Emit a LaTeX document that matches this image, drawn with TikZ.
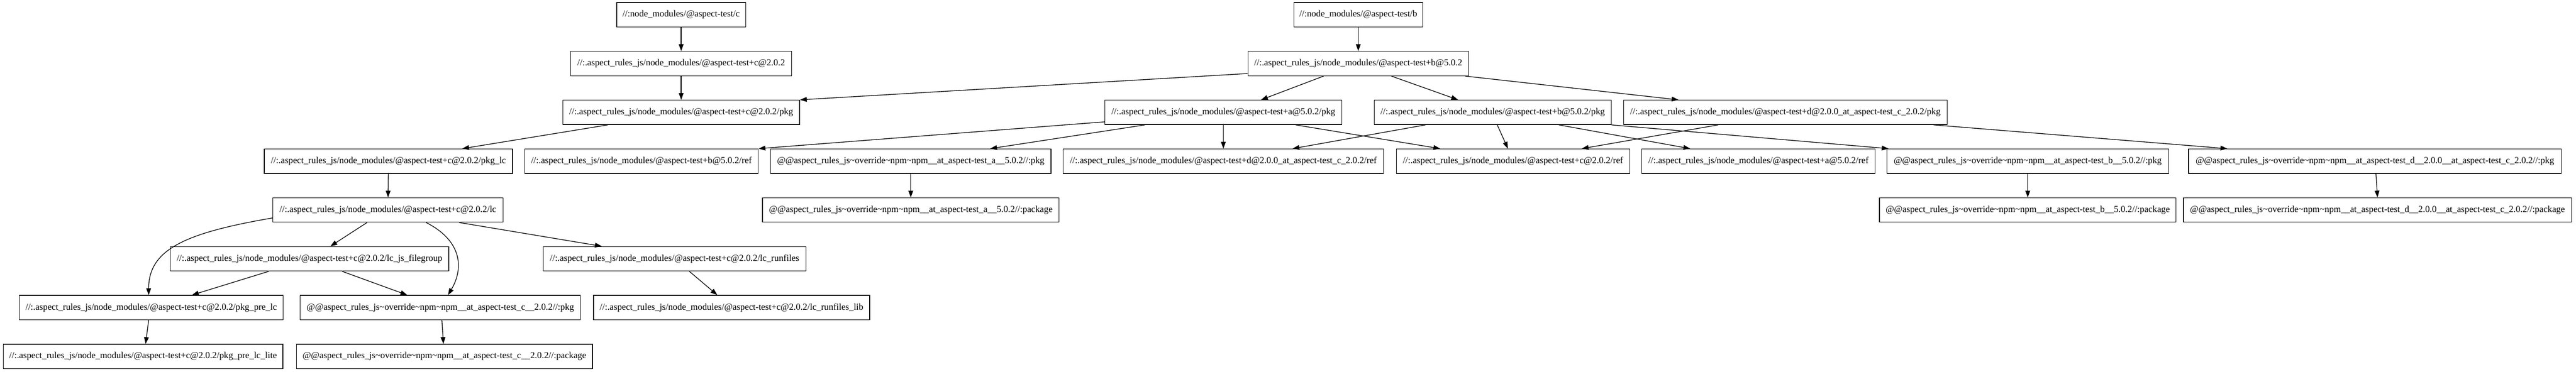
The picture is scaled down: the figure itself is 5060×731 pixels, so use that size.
\documentclass[tikz,border=0pt]{standalone}
\usepackage{fontspec}
\setmainfont{Liberation Serif}
\usetikzlibrary{arrows.meta,calc}
\newcommand\mytilde{\textasciitilde{}}
\tikzset{
  gbox/.style={draw, line width=1pt, minimum height=36pt, inner sep=0pt, font=\fontsize{13.5pt}{16pt}\selectfont, anchor=center},
  arr/.style={line width=1pt, -{Triangle[length=10pt,width=7pt]}},
}
\begin{document}
\begin{tikzpicture}[x=0.75pt, y=-0.75pt]
\useasboundingbox (0,0) rectangle (5060,731);
% rank 1
\node[gbox, minimum width=190pt] (topC) at (1338,29) {//:node\_modules/@aspect-test/c};
\node[gbox, minimum width=190pt] (topB) at (2668,29) {//:node\_modules/@aspect-test/b};
% rank 2
\node[gbox, minimum width=325.5pt] (c202) at (1338,125) {//:.aspect\_rules\_js/node\_modules/@aspect-test+c@2.0.2};
\node[gbox, minimum width=325pt] (b502) at (2668,125) {//:.aspect\_rules\_js/node\_modules/@aspect-test+b@5.0.2};
% rank 3
\node[gbox, minimum width=349pt] (cpkg) at (1338,221) {//:.aspect\_rules\_js/node\_modules/@aspect-test+c@2.0.2/pkg};
\node[gbox, minimum width=349pt] (apkg) at (2403,221) {//:.aspect\_rules\_js/node\_modules/@aspect-test+a@5.0.2/pkg};
\node[gbox, minimum width=349pt] (bpkg) at (2932,221) {//:.aspect\_rules\_js/node\_modules/@aspect-test+b@5.0.2/pkg};
\node[gbox, minimum width=477pt] (dpkg) at (3507,221) {//:.aspect\_rules\_js/node\_modules/@aspect-test+d@2.0.0\_at\_aspect-test\_c\_2.0.2/pkg};
% rank 4
\node[gbox, minimum width=366pt] (pkglc) at (763,317) {//:.aspect\_rules\_js/node\_modules/@aspect-test+c@2.0.2/pkg\_lc};
\node[gbox, minimum width=344pt] (bref) at (1260,317) {//:.aspect\_rules\_js/node\_modules/@aspect-test+b@5.0.2/ref};
\node[gbox, minimum width=413pt] (anpmpkg) at (1789,317) {@@aspect\_rules\_js\mytilde override\mytilde npm\mytilde npm\_\_at\_aspect-test\_a\_\_5.0.2//:pkg};
\node[gbox, minimum width=472pt] (dref) at (2403,317) {//:.aspect\_rules\_js/node\_modules/@aspect-test+d@2.0.0\_at\_aspect-test\_c\_2.0.2/ref};
\node[gbox, minimum width=344pt] (cref) at (2972,317) {//:.aspect\_rules\_js/node\_modules/@aspect-test+c@2.0.2/ref};
\node[gbox, minimum width=344pt] (aref) at (3454,317) {//:.aspect\_rules\_js/node\_modules/@aspect-test+a@5.0.2/ref};
\node[gbox, minimum width=415pt] (bnpmpkg) at (3983,317) {@@aspect\_rules\_js\mytilde override\mytilde npm\mytilde npm\_\_at\_aspect-test\_b\_\_5.0.2//:pkg};
\node[gbox, minimum width=549pt] (dnpmpkg) at (4665,317) {@@aspect\_rules\_js\mytilde override\mytilde npm\mytilde npm\_\_at\_aspect-test\_d\_\_2.0.0\_\_at\_aspect-test\_c\_2.0.2//:pkg};
% rank 5
\node[gbox, minimum width=339pt] (lc) at (762,413) {//:.aspect\_rules\_js/node\_modules/@aspect-test+c@2.0.2/lc};
\node[gbox, minimum width=437pt] (apackage) at (1789,413) {@@aspect\_rules\_js\mytilde override\mytilde npm\mytilde npm\_\_at\_aspect-test\_a\_\_5.0.2//:package};
\node[gbox, minimum width=437pt] (bpackage) at (3983,413) {@@aspect\_rules\_js\mytilde override\mytilde npm\mytilde npm\_\_at\_aspect-test\_b\_\_5.0.2//:package};
\node[gbox, minimum width=572pt] (dpackage) at (4670,413) {@@aspect\_rules\_js\mytilde override\mytilde npm\mytilde npm\_\_at\_aspect-test\_d\_\_2.0.0\_\_at\_aspect-test\_c\_2.0.2//:package};
% rank 6
\node[gbox, minimum width=410pt] (lcjs) at (608,509) {//:.aspect\_rules\_js/node\_modules/@aspect-test+c@2.0.2/lc\_js\_filegroup};
\node[gbox, minimum width=387pt] (lcrun) at (1325,509) {//:.aspect\_rules\_js/node\_modules/@aspect-test+c@2.0.2/lc\_runfiles};
% rank 7
\node[gbox, minimum width=389pt] (prelc) at (297,605) {//:.aspect\_rules\_js/node\_modules/@aspect-test+c@2.0.2/pkg\_pre\_lc};
\node[gbox, minimum width=413pt] (cnpmpkg) at (865,605) {@@aspect\_rules\_js\mytilde override\mytilde npm\mytilde npm\_\_at\_aspect-test\_c\_\_2.0.2//:pkg};
\node[gbox, minimum width=407pt] (lcrunlib) at (1437,605) {//:.aspect\_rules\_js/node\_modules/@aspect-test+c@2.0.2/lc\_runfiles\_lib};
% rank 8
\node[gbox, minimum width=412pt] (prelclite) at (281,701) {//:.aspect\_rules\_js/node\_modules/@aspect-test+c@2.0.2/pkg\_pre\_lc\_lite};
\node[gbox, minimum width=436pt] (cnpmpackage) at (873,701) {@@aspect\_rules\_js\mytilde override\mytilde npm\mytilde npm\_\_at\_aspect-test\_c\_\_2.0.2//:package};

% edges
\draw[arr] (topC) -- (c202);
\draw[arr] (c202) -- (cpkg);
\draw[arr] (topB) -- (b502);
\draw[arr] ($(b502.south west)+(0,-5)$) -- (cpkg.north east);
\draw[arr] ($(b502.south)+(-68,0)$) -- ($(apkg.north)+(74,0)$);
\draw[arr] ($(b502.south)+(65,0)$) -- ($(bpkg.north)+(-68,0)$);
\draw[arr] ($(b502.south)+(210,0)$) -- ($(dpkg.north)+(-210,0)$);
\draw[arr] ($(cpkg.south)+(-144,0)$) -- ($(pkglc.north)+(145,0)$);
\draw[arr] ($(apkg.south west)+(0,-6)$) -- (bref.north east);
\draw[arr] ($(apkg.south)+(-154,0)$) -- ($(anpmpkg.north)+(156,0)$);
\draw[arr] (apkg) -- (dref);
\draw[arr] ($(apkg.south)+(142,0)$) -- ($(cref.north)+(-143,0)$);
\draw[arr] ($(bpkg.south)+(-132,0)$) -- ($(dref.north)+(136,0)$);
\draw[arr] ($(bpkg.south)+(9,0)$) -- ($(cref.north)+(-10,0)$);
\draw[arr] ($(bpkg.south)+(130,0)$) -- ($(aref.north)+(-134,0)$);
\draw[arr] (bpkg.south east) -- ($(bnpmpkg.north west)+(4,0)$);
\draw[arr] ($(dpkg.south)+(-132,0)$) -- ($(cref.north)+(135,0)$);
\draw[arr] ($(dpkg.south)+(291,0)$) -- ($(dnpmpkg.north)+(-290,0)$);
\draw[arr] (anpmpkg) -- (apackage);
\draw[arr] (bnpmpkg) -- (bpackage);
\draw[arr] ($(dnpmpkg.south)+(2,0)$) -- (dpackage.north);
\draw[arr] (pkglc) -- (lc);
\draw[arr] ($(lc.south west)+(0,-9)$) .. controls (365,458) and (292,490) .. (prelc.north -| 292,0);
\draw[arr] ($(lc.south)+(-41,0)$) -- ($(lcjs.north)+(41,0)$);
\draw[arr] ($(lc.south)+(75,0)$) .. controls (910,475) and (910,530) .. ($(cnpmpkg.north)+(15,0)$);
\draw[arr] ($(lc.south)+(140,0)$) -- ($(lcrun.north)+(-143,0)$);
\draw[arr] ($(lcjs.south)+(-80,0)$) -- ($(prelc.north)+(80,0)$);
\draw[arr] ($(lcjs.south)+(64,0)$) -- ($(cnpmpkg.north)+(-65,0)$);
\draw[arr] ($(prelc.south)+(-5,0)$) -- ($(prelclite.north)+(5,0)$);
\draw[arr] ($(cnpmpkg.south)+(3,0)$) -- ($(cnpmpackage.north)+(-2,0)$);
\draw[arr] ($(lcrun.south)+(29,0)$) -- ($(lcrunlib.north)+(-28,0)$);
\end{tikzpicture}
\end{document}
